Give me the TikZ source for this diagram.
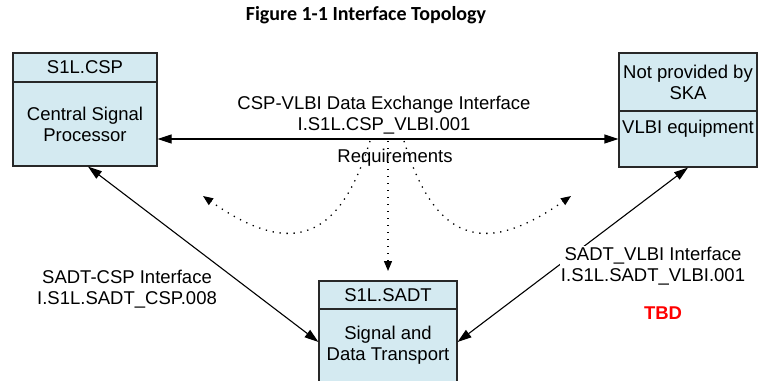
\documentclass[tikz,border=0pt]{standalone}
\usepackage{fontspec}
\setmainfont{Liberation Sans}
\newfontfamily\captionfont{Carlito}
\usetikzlibrary{arrows.meta}
\definecolor{boxblue}{RGB}{212,234,241}
\definecolor{edgegrey}{RGB}{40,40,40}

\begin{document}
\begin{tikzpicture}[x=1pt,y=-1pt,
  every node/.style={font=\fontsize{18.5}{21}\selectfont, inner sep=0pt},
  part/.style={draw=edgegrey, fill=boxblue, line width=1.1pt, align=center},
  lbl/.style={align=center},
  gaplbl/.style={align=center, fill=white, inner sep=1pt},
  link/.style={line width=1.1pt, {Triangle[length=14pt,width=9pt]}-{Triangle[length=14pt,width=9pt]}},
  reqarrow/.style={line width=1.3pt, dash pattern=on 1.3pt off 5.7pt, -{Triangle[length=10pt,width=8pt]}}]

\useasboundingbox (0,0) rectangle (759,380);

% caption
\node (title) at (366,15) {\captionfont\bfseries\fontsize{20}{23}\selectfont Figure 1-1 Interface Topology};

% Central Signal Processor
\node[part, minimum width=144pt, minimum height=84pt] (cspB) at (85,124) {Central Signal\\Processor};
\node[part, minimum width=144pt, minimum height=29pt] (cspH) at (85,67.5) {S1L.CSP};

% VLBI equipment
\node[part, minimum width=138pt, minimum height=56pt] (vlbiB) at (688,139) {};
\node (vlbiT) at (688,129) {VLBI equipment};
\node[part, minimum width=138pt, minimum height=58pt] (vlbiH) at (688,82) {Not provided by\\SKA};

% Signal and Data Transport
\node[part, minimum width=138pt, minimum height=73pt] (sadtB) at (388,345.5) {Signal and\\Data Transport};
\node[part, minimum width=138pt, minimum height=28pt] (sadtH) at (388,295) {S1L.SADT};

% interfaces
\draw[link] ([yshift=-15pt]cspB.east) -- (vlbiB.west);
\draw[link] ([xshift=3pt]cspB.south) -- ([yshift=3.5pt]sadtB.west);
\draw[link] (vlbiB.south) -- ([yshift=3.5pt]sadtB.east);

% requirements flow
\coordinate (r1) at (370,141);
\coordinate (r2) at (388,141);
\coordinate (r3) at (404,141);
\coordinate (t1) at (203,196);
\coordinate (t2) at (388,271);
\coordinate (t3) at (571,196);
\draw[reqarrow] (r1) .. controls (337,250) and (283,252) .. (t1);
\draw[reqarrow] (r2) -- (t2);
\draw[reqarrow] (r3) .. controls (437,250) and (491,252) .. (t3);

% labels
\node[lbl] (xlab) at (384,115) {CSP-VLBI Data Exchange Interface\\I.S1L.CSP\_VLBI.001};
\node (req) at (395,158) {Requirements};
\node[gaplbl] (clab) at (127,289) {SADT-CSP Interface\\I.S1L.SADT\_CSP.008};
\node[gaplbl] (vlab) at (653,266) {SADT\_VLBI Interface\\I.S1L.SADT\_VLBI.001};
\node[text=red] (tbd) at (663,313) {\bfseries TBD};
\end{tikzpicture}
\end{document}
